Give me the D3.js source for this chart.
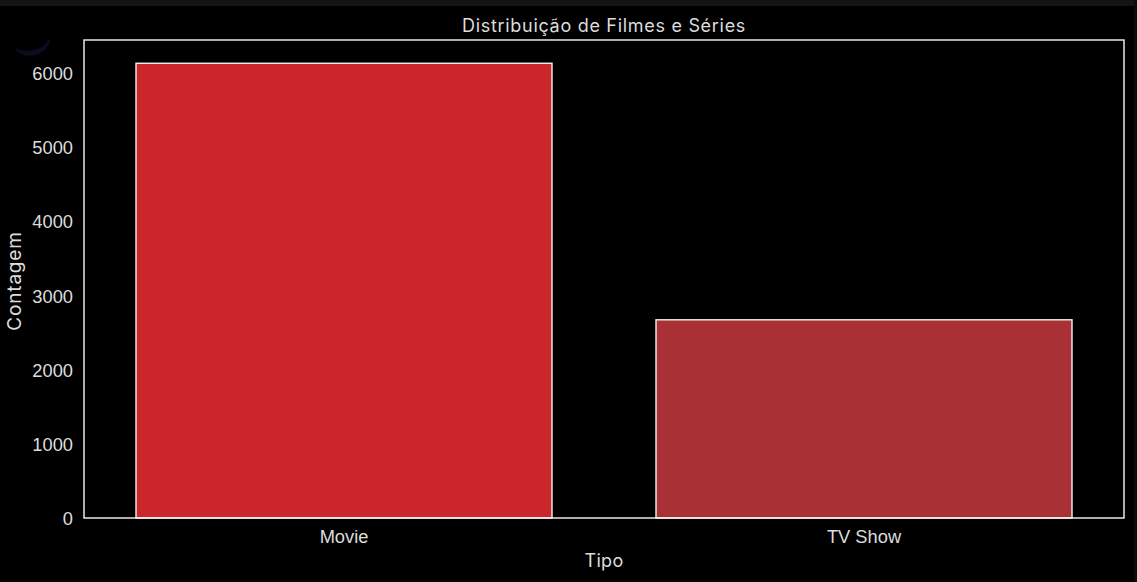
<!DOCTYPE html>
<html>
<head>
<meta charset="utf-8">
<script src="https://cdn.jsdelivr.net/npm/d3@7"></script>
<style>
  html, body { margin: 0; padding: 0; background: #000; overflow: hidden; }
  svg { display: block; }
</style>
</head>
<body>
<div class="chart"></div>
<script>
const categories = ["Movie", "TV Show"];
const counts = [6131, 2676];
const barColors = ["#cb262c", "#a93136"];
const yTicks = [0, 1000, 2000, 3000, 4000, 5000, 6000];

const chartTitle = "Distribuição de Filmes e Séries";
const xTitle = "Tipo";
const yTitle = "Contagem";

var cfg = {
  width: 1137,
  height: 582,
  margin: {top: 40, right: 13, bottom: 64, left: 84},
};

const textColor = "#dcdcdc";
const tickFont = "'Liberation Sans', Arial, sans-serif";
const labelFont = "Inter, 'Open Sans', sans-serif";

var scale = {
  x: d3.scaleBand()
    .domain(categories)
    .range([cfg.margin.left, cfg.width - cfg.margin.right])
    .paddingInner(0.2)
    .paddingOuter(0.1),
  y: d3.scaleLinear()
    // matplotlib leaves 5% above the tallest bar
    .domain([0, d3.max(counts) * 1.05])
    .range([cfg.height - cfg.margin.bottom, cfg.margin.top]),
};

var svg = d3.select(".chart").append("svg")
  .attr("width", cfg.width)
  .attr("height", cfg.height);

// page background and the strips of the notebook around the figure
svg.append("rect").attr("width", cfg.width).attr("height", cfg.height).attr("fill", "#000");
svg.append("rect").attr("width", cfg.width).attr("height", 6).attr("fill", "#141414");
svg.append("rect").attr("x", 1134).attr("width", 3).attr("height", cfg.height).attr("fill", "#0b0b0b");

// faint crescent left over at the top left of the screenshot
svg.append("path")
  .attr("d", "M15,48 C20,60 46,59 50,40 L48,40 C44,50 26,54 15,48 Z")
  .attr("fill", "#0a0c20");

// bars
svg.append("g")
  .selectAll("rect")
  .data(categories)
  .enter()
  .append("rect")
  .attr("x", d => scale.x(d))
  .attr("y", (d, i) => scale.y(counts[i]) + 0.5)
  .attr("width", scale.x.bandwidth())
  .attr("height", (d, i) => scale.y(0) - scale.y(counts[i]) - 0.5)
  .attr("fill", (d, i) => barColors[i])
  .attr("stroke", "#f2f2f2")
  .attr("stroke-width", 1.4);

// axes, no tick marks in the original
var xAxis = svg.append("g")
  .attr("transform", `translate(0, ${scale.y(0) + 1})`)
  .call(d3.axisBottom(scale.x).tickSize(0).tickPadding(11));

var yAxis = svg.append("g")
  .attr("transform", `translate(${cfg.margin.left}, 1)`)
  .call(d3.axisLeft(scale.y).tickValues(yTicks).tickSize(0).tickPadding(11).tickFormat(d3.format("d")));

[xAxis, yAxis].forEach(a => {
  a.select(".domain").remove();
  a.selectAll("text")
    .attr("fill", textColor)
    .style("font-family", tickFont)
    .style("font-size", "18.3px");
});

// frame
svg.append("rect")
  .attr("x", cfg.margin.left)
  .attr("y", cfg.margin.top)
  .attr("width", cfg.width - cfg.margin.left - cfg.margin.right)
  .attr("height", cfg.height - cfg.margin.top - cfg.margin.bottom)
  .attr("fill", "none")
  .attr("stroke", "#f8f8f8")
  .attr("stroke-width", 1.4);

function addLabel(text, x, y, rotate, size, spacing) {
  return svg.append("text")
    .attr("transform", `translate(${x},${y})` + (rotate ? " rotate(-90)" : ""))
    .attr("text-anchor", "middle")
    .attr("fill", textColor)
    .style("font-family", labelFont)
    .style("font-size", size + "px")
    .style("letter-spacing", spacing + "px")
    .text(text);
}

addLabel(chartTitle, 604, 32, false, 18, 0.7);
addLabel(xTitle, 604, 567, false, 18, 0.3);
addLabel(yTitle, 21, 281, true, 19, 0.8);
</script>
</body>
</html>
